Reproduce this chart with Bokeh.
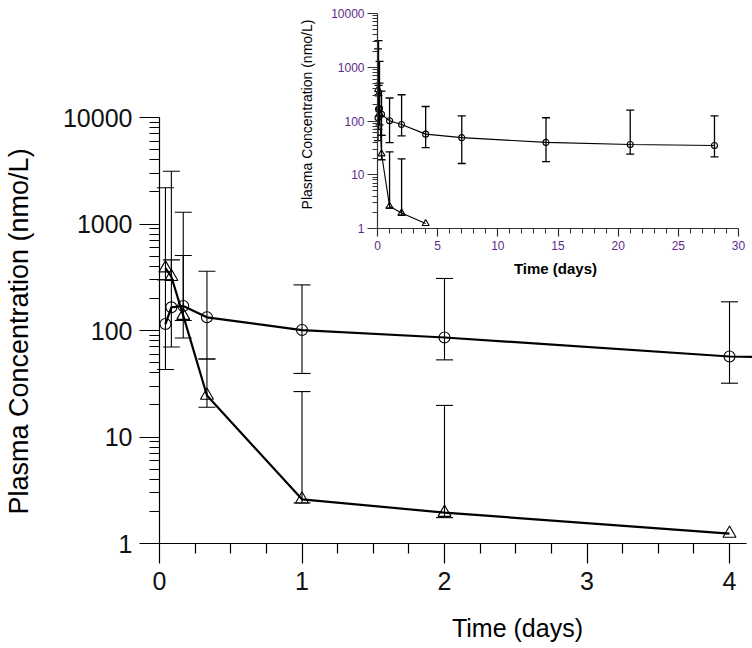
import math
from bokeh.plotting import figure
from bokeh.models import (Range1d, LinearAxis, LogAxis, LinearScale, LogScale,
                          FixedTicker, BasicTickFormatter, Label)
from bokeh.embed import file_html
from bokeh.resources import INLINE

# ---------------- data ----------------
time_circle = [0.0417, 0.0833, 0.1667, 0.333, 1, 2, 4, 7, 14, 21, 28]
conc_circle = [115, 165, 170, 133, 101, 86, 57, 49, 40, 36.5, 35]
upper_circle = [300, 460, 506, 360, 268, 308, 186, 125, 115, 159, 125]
lower_circle = [43, 70, 85, 54, 39.5, 53, 32, 16.2, 17.6, 24.1, 21.6]

time_tri = [0.0417, 0.0833, 0.1667, 0.333, 1, 2, 4]
conc_tri = [385, 320, 138, 24.5, 2.6, 1.95, 1.24]
upper_tri = [2190, 3130, 1290, 54, 26.7, 19.8, None]
lower_tri = [300, None, 124, 19, 2.4, 1.75, None]

main_x_ticks = [0, 1, 2, 3, 4]
main_y_ticks = [1, 10, 100, 1000, 10000]
inset_x_ticks = [0, 5, 10, 15, 20, 25, 30]
inset_y_ticks = [1, 10, 100, 1000, 10000]

y_label = "Plasma Concentration (nmo/L)"
x_label = "Time (days)"

FONT = "Liberation Sans"
NAN = float("nan")


def seg_low(conc, low):
    return [l if l is not None else c for c, l in zip(conc, low)]


def seg_up(conc, up):
    return [u if u is not None else c for c, u in zip(conc, up)]


def caps(vals):
    return [v if v is not None else NAN for v in vals]


# ---------------- figure (frame = whole canvas) ----------------
W, H = 752, 648
p = figure(width=W, height=H, output_backend="svg", toolbar_location=None,
           x_range=Range1d(-1.1158, 4.1614),
           y_range=Range1d(10 ** -0.9859, 10 ** 5.0986),
           y_axis_type="log")
p.min_border_left = 0
p.min_border_right = 0
p.min_border_top = 0
p.min_border_bottom = 0
p.outline_line_color = None
p.xgrid.visible = False
p.ygrid.visible = False
p.background_fill_color = "white"
p.border_fill_color = "white"

# main axes, drawn at fixed data locations inside the frame
xa = p.xaxis[0]
xa.ticker = FixedTicker(ticks=main_x_ticks,
                        minor_ticks=[i * 0.25 for i in range(17) if i % 4])
xa.formatter = BasicTickFormatter(use_scientific=False)
xa.fixed_location = 1
xa.bounds = (0, 4.119)
ya = p.yaxis[0]
ya.ticker = FixedTicker(ticks=main_y_ticks,
                        minor_ticks=[m * 10 ** d for d in range(4) for m in range(2, 10)])
ya.formatter = BasicTickFormatter(use_scientific=False)
ya.fixed_location = 0
ya.bounds = (1, 10000)
for ax in (xa, ya):
    ax.major_tick_out = 20
    ax.major_tick_in = 0
    ax.minor_tick_out = 10
    ax.minor_tick_in = 0
    ax.axis_line_color = "black"
    ax.major_tick_line_color = "black"
    ax.minor_tick_line_color = "black"
    ax.axis_line_width = 1.2
    ax.major_tick_line_width = 1.2
    ax.minor_tick_line_width = 1.2
    ax.major_label_text_font = FONT
    ax.major_label_text_font_size = "25px"
    ax.major_label_text_color = "#111111"
xa.major_label_standoff = 8
ya.major_label_standoff = 7

# inset ranges / scales
p.extra_x_ranges = {"ix": Range1d(-31.33, 31.16)}
p.extra_y_ranges = {"iy": Range1d(10 ** -7.814, 10 ** 4.242)}
p.extra_x_scales = {"ix": LinearScale()}
p.extra_y_scales = {"iy": LogScale()}

ixa = LinearAxis(x_range_name="ix", y_range_name="iy", fixed_location=1,
                 bounds=(0, 30),
                 ticker=FixedTicker(ticks=inset_x_ticks,
                                    minor_ticks=[i for i in range(31) if i % 5]),
                 formatter=BasicTickFormatter(use_scientific=False))
iya = LogAxis(x_range_name="ix", y_range_name="iy", fixed_location=0,
              bounds=(1, 10000),
              ticker=FixedTicker(ticks=inset_y_ticks,
                                 minor_ticks=[m * 10 ** d for d in range(4) for m in range(2, 10)]),
              formatter=BasicTickFormatter(use_scientific=False))
for ax in (ixa, iya):
    ax.major_tick_in = 0
    ax.minor_tick_in = 0
    ax.axis_line_color = "#333333"
    ax.major_tick_line_color = "#333333"
    ax.minor_tick_line_color = "#333333"
    ax.axis_line_width = 1.2
    ax.major_tick_line_width = 1.2
    ax.minor_tick_line_width = 1.0
    ax.major_label_text_font = FONT
    ax.major_label_text_font_size = "12px"
    ax.major_label_text_color = "#5e2a8c"
ixa.major_tick_out = 8
ixa.minor_tick_out = 5
ixa.major_label_standoff = 4
iya.major_tick_out = 10
iya.minor_tick_out = 5
iya.major_label_standoff = 3
p.add_layout(ixa, "below")
p.add_layout(iya, "left")


def draw_series(t, c, up, low, kw, lw, ew, cap, marker, msize):
    p.line(t, c, line_color="black", line_width=lw, **kw)
    p.segment(x0=t, y0=seg_low(c, low), x1=t, y1=seg_up(c, up),
              line_color="black", line_width=ew, **kw)
    p.scatter(t, caps(up), marker="dash", size=cap, line_color="black",
              line_width=ew, **kw)
    p.scatter(t, caps(low), marker="dash", size=cap, line_color="black",
              line_width=ew, **kw)
    p.scatter(t, c, marker=marker, size=msize, fill_color=None,
              line_color="black", line_width=1.1, **kw)


main_kw = {}
inset_kw = {"x_range_name": "ix", "y_range_name": "iy"}

draw_series(time_circle, conc_circle, upper_circle, lower_circle, main_kw,
            2.2, 1.1, 17, "circle", 11)
draw_series(time_tri, conc_tri, upper_tri, lower_tri, main_kw,
            2.2, 1.1, 17, "triangle", 13)
draw_series(time_circle, conc_circle, upper_circle, lower_circle, inset_kw,
            1.1, 1.3, 8, "circle", 6)
draw_series(time_tri, conc_tri, upper_tri, lower_tri, inset_kw,
            1.1, 1.3, 8, "triangle", 7)

# axis titles
p.add_layout(Label(x=-0.9825, y=10 ** 1.991, text=y_label, angle=math.pi / 2,
                   text_align="center", text_baseline="middle",
                   text_font=FONT, text_font_size="27px", text_color="black"))
p.add_layout(Label(x=2.512, y=10 ** -0.798, text=x_label,
                   text_align="center", text_baseline="middle",
                   text_font=FONT, text_font_size="25px", text_color="black"))
p.add_layout(Label(x=-5.82, y=10 ** 2.121, text=y_label, angle=math.pi / 2,
                   x_range_name="ix", y_range_name="iy",
                   text_align="center", text_baseline="middle",
                   text_font=FONT, text_font_size="14px", text_color="black"))
p.add_layout(Label(x=14.79, y=10 ** -0.744, text=x_label,
                   x_range_name="ix", y_range_name="iy",
                   text_align="center", text_baseline="middle",
                   text_font=FONT, text_font_size="15px", text_font_style="bold",
                   text_color="black"))

open("out.html", "w").write(file_html(p, INLINE))
